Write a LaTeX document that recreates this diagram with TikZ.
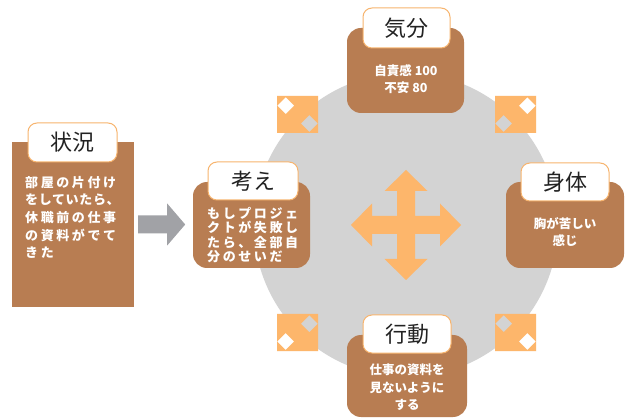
\documentclass[tikz,border=0pt]{standalone}
\usepackage{fontspec}
\usetikzlibrary{calc}
\newfontfamily\jp{Noto Sans CJK JP}
\newfontfamily\jpls[LetterSpace=20]{Noto Sans CJK JP}
\newfontfamily\jplt[LetterSpace=5]{Noto Sans CJK JP}
\definecolor{boxbrown}{RGB}{184,125,82}
\definecolor{titleorange}{RGB}{247,180,110}
\definecolor{iconorange}{RGB}{253,182,107}
\definecolor{circgray}{RGB}{211,211,211}
\definecolor{arrowgray}{RGB}{161,162,166}
\definecolor{titletext}{RGB}{34,34,34}
\newcommand\diagicon[2]{%
  \begin{scope}[shift={#1}, xscale=#2]
    \fill[iconorange, even odd rule] (-20.5,-18.5) rectangle (20.5,18.5)
      (-11.8,-17.3) -- (-3.3,-8.8) -- (-11.8,-0.3) -- (-20.3,-8.8) -- cycle
      (11.8,0.5) -- (20.3,9) -- (11.8,17.5) -- (3.3,9) -- cycle;
  \end{scope}}
\begin{document}
\begin{tikzpicture}[x=1pt,y=-1pt,
  brownbox/.style={fill=boxbrown, rounded corners=14pt, inner sep=0pt},
  titlebox/.style={fill=white, draw=titleorange, line width=1pt, rounded corners=9pt,
    text=titletext, font=\jp\fontsize{22}{26}\selectfont,
    minimum width=88pt, minimum height=38pt, inner sep=0pt},
  bodytext/.style={text=white, inner sep=0pt, font=\jp\bfseries\fontsize{12.5}{17}\selectfont, align=center},
  spacedtext/.style={text=white, inner sep=0pt, align=left}]
\useasboundingbox (0,0) rectangle (626,419);
\fill[white] (0,0) rectangle (626,419);
% big circle
\node[circle, fill=circgray, minimum size=304pt, inner sep=0pt] (ring) at (406,225) {};
% diagonal icons
\diagicon{(297.5,114.5)}{1}
\diagicon{(515.5,114.5)}{-1}
\diagicon{(297.5,332.5)}{-1}
\diagicon{(515.5,332.5)}{1}
% central cross
\begin{scope}[shift={(ring.center)}]
  \fill[iconorange] (0,-55) -- (21.5,-34) -- (9,-34) -- (9,-9) -- (34,-9) -- (34,-21.5)
    -- (55,0) -- (34,21.5) -- (34,9) -- (9,9) -- (9,34) -- (21.5,34) -- (0,55)
    -- (-21.5,34) -- (-9,34) -- (-9,9) -- (-34,9) -- (-34,21.5) -- (-55,0)
    -- (-34,-21.5) -- (-34,-9) -- (-9,-9) -- (-9,-34) -- (-21.5,-34) -- cycle;
\end{scope}
% situation box
\node[fill=boxbrown, minimum width=122pt, minimum height=165pt, inner sep=0pt] (jokyo) at (73,224.5) {};
\node[titlebox, minimum width=89pt, minimum height=39pt] (jokyot) at (72.5,142.5) {状況};
\node[spacedtext, anchor=north west, font=\jpls\bfseries\fontsize{13}{17.6}\selectfont] (jokyotxt) at (25,176)
  {部屋の片付け\\{\jplt\bfseries をしていたら、}\\休職前の仕事\\の資料がでて\\きた};
% arrow
\fill[arrowgray] ($(jokyo.east)+(4,-9)$) -- ++(29,0) -- ++(0,-12) -- ++(18,21) -- ++(-18,21)
  -- ++(0,-12) -- ++(-29,0) -- cycle;
% thought
\node[brownbox, minimum width=117pt, minimum height=86pt] (kangae) at (251.5,225) {};
\node[titlebox, minimum width=90pt] (kangaet) at (253,181) {考え};
\node[spacedtext, anchor=north west, font=\jpls\bfseries\fontsize{13}{14.5}\selectfont] (kangaetxt) at (207,207)
  {もしプロジェ\\クトが失敗し\\たら、全部自\\分のせいだ};
% mood
\node[brownbox, minimum width=117pt, minimum height=85pt] (kibun) at (405.5,70.5) {};
\node[titlebox, minimum width=87pt, minimum height=40pt] (kibunt) at (406.5,28) {気分};
\node[bodytext, anchor=north] (kibuntxt) at (406,64) {自責感 100\\不安 80};
% body
\node[brownbox, minimum width=118pt, minimum height=86pt] (shintai) at (565,225) {};
\node[titlebox] (shintait) at (565,182) {身体};
\node[bodytext, anchor=north] (shintaitxt) at (565,217) {胸が苦しい\\感じ};
% action
\node[brownbox, minimum width=120pt, minimum height=82pt] (kodo) at (407,376) {};
\node[titlebox] (kodot) at (407,334) {行動};
\node[bodytext, anchor=north, font=\jp\bfseries\fontsize{12.5}{17.3}\selectfont] (kodotxt) at (407,364) {仕事の資料を\\見ないように\\する};
\end{tikzpicture}
\end{document}
